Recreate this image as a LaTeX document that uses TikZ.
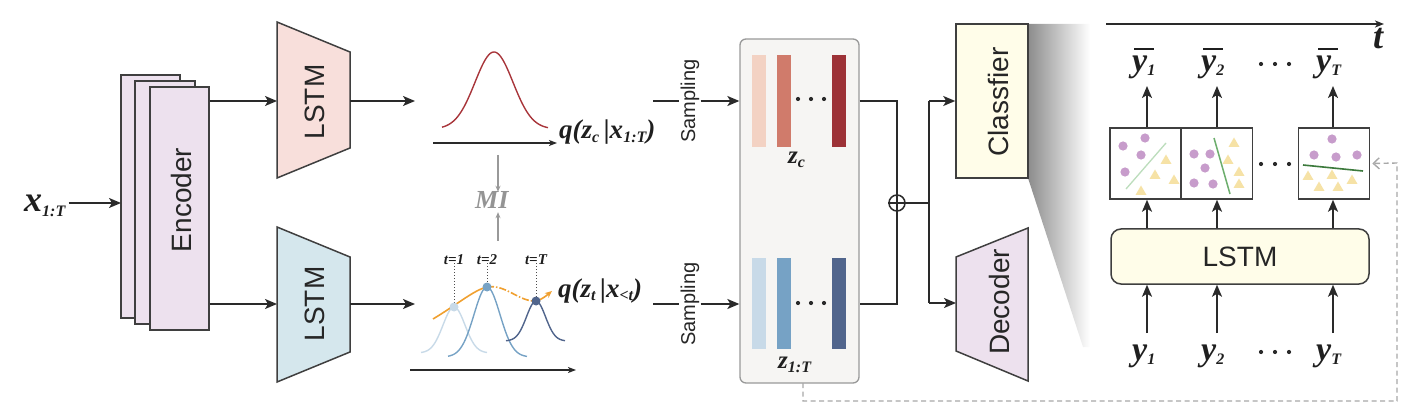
\documentclass[tikz,border=0pt]{standalone}
\usepackage{fontspec}
\setmainfont{Liberation Serif}
\setsansfont{Liberation Sans}
\usetikzlibrary{arrows.meta,calc}
\newcommand\bi[1]{{\bfseries\itshape #1}}
\newcommand\fs[1]{\fontsize{#1}{#1}\selectfont}
\newcommand\lo[2]{\raisebox{-#1}{\fs{16}\bi{#2}}}
\newcommand\ybar{\makebox[0pt][l]{\hspace{0.06em}\raisebox{0.66em}{\rule{0.58em}{0.055em}}}\bi{y}}
\definecolor{encfill}{HTML}{EDE1EE}
\definecolor{lstmred}{HTML}{F8DFDB}
\definecolor{lstmblue}{HTML}{D5E7ED}
\definecolor{clsfill}{HTML}{FFFDE9}
\definecolor{panelfill}{HTML}{F6F5F3}
\definecolor{lineblack}{HTML}{2A2A2A}
\definecolor{redA}{HTML}{F3D2C3}
\definecolor{redB}{HTML}{D07B6B}
\definecolor{redC}{HTML}{9D3237}
\definecolor{bluA}{HTML}{C8DAE8}
\definecolor{bluB}{HTML}{76A2C5}
\definecolor{bluC}{HTML}{51658C}
\definecolor{gaussred}{HTML}{A8353A}
\definecolor{orangec}{HTML}{F0A030}
\definecolor{purp}{HTML}{C79CCB}
\definecolor{trifill}{HTML}{F6E2A6}
\definecolor{grnA}{HTML}{BCDDBC}
\definecolor{grnB}{HTML}{6DAE6D}
\definecolor{grnC}{HTML}{3C7A3C}
\definecolor{dashgrey}{HTML}{A8A8A8}
\begin{document}
\begin{tikzpicture}[x=1pt,y=-1pt,
  >={Stealth[length=12pt,width=10pt,inset=3pt]},
  conn/.style={draw=lineblack, line width=1.6pt},
  boxline/.style={draw=lineblack!90, line width=1.5pt},
  sanslbl/.style={font=\sffamily\fs{28}, text=black!85, inner sep=1pt},
  samplbl/.style={font=\sffamily\fs{20}, text=black!85, inner sep=1pt, rotate=90},
  bilbl/.style={inner sep=0pt, text=black!88},
  minibox/.style={boxline, fill=white, minimum width=71pt, minimum height=71pt, inner sep=0pt},
  dashln/.style={draw=dashgrey, line width=1.4pt, dash pattern=on 5pt off 3.5pt}
]
\useasboundingbox (0,0) rectangle (1414,414);

% ---------- input and encoder ----------
\node[bilbl, anchor=base west] (xin) at (24,212) {\fs{36}\bi{x}\lo{5pt}{1:T}};
\node[boxline, fill=encfill, minimum width=59pt, minimum height=243pt, inner sep=0pt] (encA) at (150.5,196.5) {};
\node[boxline, fill=encfill, minimum width=60pt, minimum height=243pt, inner sep=0pt] (encB) at (165,202.5) {};
\node[boxline, fill=encfill, minimum width=59pt, minimum height=243pt, inner sep=0pt] (enc) at (179.5,208.5) {};
\node[sanslbl, rotate=90] (enclbl) at (181,200) {Encoder};
\coordinate (xtip) at (121,203);
\draw[conn,->] (xin.east |- xtip) ++(3,0) -- (xtip);

% ---------- LSTMs ----------
\draw[boxline, fill=lstmred] (277,22) -- (350,52) -- (350,148) -- (277,178) -- cycle;
\node[sanslbl, rotate=90] (lstmA) at (315,102) {LSTM};
\draw[boxline, fill=lstmblue] (277,227) -- (350,257) -- (350,352) -- (277,382) -- cycle;
\node[sanslbl, rotate=90] (lstmB) at (315,304) {LSTM};
\coordinate (lAin) at (277,101);
\coordinate (lBin) at (277,304);
\coordinate (lAout) at (350,101);
\coordinate (lBout) at (350,304);
\coordinate (gAin) at (415,101);
\coordinate (gBin) at (415,304);
\draw[conn,->] (enc.east |- lAin) -- (lAin);
\draw[conn,->] (enc.east |- lBin) -- (lBin);
\draw[conn,->] (lAout) -- (gAin);
\draw[conn,->] (lBout) -- (gBin);

% ---------- top gaussian ----------
\draw[gaussred, line width=1.4pt] plot[domain=442:548, samples=80, smooth] (\x, {129-77*exp(-((\x-494)^2)/(2*19^2))});
\draw[conn, line width=1.4pt, -{Stealth[length=8pt,width=6pt,inset=2pt]}] (433,143) -- (557,143);
\node[bilbl, anchor=base west] (qc) at (559,139) {\fs{27}\bi{q(z}\lo{4pt}{c}\,\bi{|x}\lo{4pt}{1:T}\bi{)}};

% ---------- MI ----------
\node[bilbl, anchor=base west, text=black!42] (mi) at (475,209) {\fs{26}\bi{MI}};
\draw[draw=black!40, line width=1.2pt, -{Stealth[length=6pt,width=5pt]}] (498,155) -- (mi.north -| 498,0);
\draw[draw=black!40, line width=1.2pt, -{Stealth[length=6pt,width=5pt]}] (498,241) -- ([yshift=-3pt]mi.south -| 498,0);

% ---------- bottom gaussians ----------
\draw[bluA, line width=1.4pt] plot[domain=421:487, samples=60, smooth] (\x, {353-46*exp(-((\x-454)^2)/(2*11^2))});
\draw[bluB, line width=1.4pt] plot[domain=448:527, samples=60, smooth] (\x, {357-70*exp(-((\x-487)^2)/(2*13^2))});
\draw[bluC, line width=1.4pt] plot[domain=506:565, samples=60, smooth] (\x, {341-40*exp(-((\x-536)^2)/(2*9.5^2))});
\draw[orangec, line width=1.6pt] (433,319) .. controls (458,304) and (474,290) .. (487,287);
\draw[orangec, line width=1.6pt, dash pattern=on 7pt off 2pt on 1.5pt off 2pt] (487,287) .. controls (506,284) and (519,302) .. (536,301);
\draw[orangec, line width=1.6pt, -{Stealth[length=7pt,width=6pt,inset=2pt]}] (536,301) .. controls (541,300) and (546,296) .. (552,291);
\node[bilbl, anchor=base] (t1) at (454,265) {\fs{15}\bi{t=1}};
\node[bilbl, anchor=base] (t2) at (487,265) {\fs{15}\bi{t=2}};
\node[bilbl, anchor=base] (tT) at (536,265) {\fs{15}\bi{t=T}};
\coordinate (d1) at (454,307);
\coordinate (d2) at (487,287);
\coordinate (d3) at (536,301);
\draw[black!70, line width=1pt, dotted] ([yshift=2pt]t1.south) -- (d1);
\draw[black!70, line width=1pt, dotted] ([yshift=2pt]t2.south) -- (d2);
\draw[black!70, line width=1pt, dotted] ([yshift=2pt]tT.south) -- (d3);
\fill[bluA] (d1) circle (4.5);
\fill[bluB] (d2) circle (4.5);
\fill[bluC] (d3) circle (4.5);
\draw[conn, line width=1.4pt, -{Stealth[length=8pt,width=6pt,inset=2pt]}] (410,370) -- (576,370);
\node[bilbl, anchor=base west] (qt) at (558,297) {\fs{27}\bi{q(z}\lo{4pt}{t}\,\bi{|x}\lo{4pt}{<t}\bi{)}};

% ---------- sampling ----------
\node[samplbl] (sA) at (690,101) {Sampling};
\node[samplbl] (sB) at (690,304) {Sampling};
\coordinate (sAa) at (653,101);
\coordinate (sBa) at (653,304);
\node[draw=black!40, line width=1.3pt, fill=panelfill, rounded corners=6pt, minimum width=119pt, minimum height=344pt, inner sep=0pt] (panel) at (799.5,211) {};
\draw[conn] (sAa) -- (sA.north);
\draw[conn] (sBa) -- (sB.north);
\draw[conn,->] (sA.south) -- (panel.west |- sA.south);
\draw[conn,->] (sB.south) -- (panel.west |- sB.south);

% bars
\fill[redA] (752,55) rectangle (766,147);
\fill[redB] (777,55) rectangle (791,147);
\fill[redC] (832,55) rectangle (846,147);
\fill[bluA] (752,258) rectangle (766,349);
\fill[bluB] (777,258) rectangle (791,349);
\fill[bluC] (832,258) rectangle (846,349);
\foreach \xx in {798,811,824} {\fill[lineblack] (\xx,99) circle (2.1); \fill[lineblack] (\xx,303) circle (2.1);}
\node[bilbl, anchor=base west] (zc) at (788,164) {\fs{25}\bi{z}\lo{4pt}{c}};
\node[bilbl, anchor=base west] (zT) at (778,368) {\fs{25}\bi{z}\lo{4pt}{1:T}};

% ---------- merge ----------
\node[circle, draw=lineblack, line width=1.5pt, minimum size=16pt, inner sep=0pt] (plus) at (897,203) {};
\coordinate (mA) at (897,101);
\coordinate (mB) at (897,304);
\coordinate (sp) at (929,203);
\coordinate (spA) at (929,101);
\coordinate (spB) at (929,303);
\draw[conn] (panel.east |- mA) -- (mA) -- (mB) -- (panel.east |- mB);
\draw[conn] (plus.west) -- (sp);
\draw[conn] (spA) -- (spB);

% ---------- shading ----------
\shade[left color=black!45, right color=white, draw=none] (1028,24) -- (1090,24) -- (1090,347) -- (1083,347) -- (1028,178) -- cycle;

% ---------- classifier / decoder ----------
\node[boxline, fill=clsfill, minimum width=72pt, minimum height=154pt, inner sep=0pt] (cls) at (992,101) {};
\node[sanslbl, rotate=90] (clslbl) at (998,102) {Classfier};
\draw[boxline, fill=encfill] (956,257) -- (1028,228) -- (1028,381) -- (956,351) -- cycle;
\node[sanslbl, rotate=90] (declbl) at (999,302) {Decoder};
\draw[conn,->] (spA) -- (cls.west |- spA);
\draw[conn,->] (spB) -- (956,303);

% ---------- right panel ----------
\coordinate (ta) at (1106,24);
\coordinate (tb) at (1384,24);
\draw[conn, line width=1.4pt, -{Stealth[length=9pt,width=7pt,inset=2.5pt]}] (ta) -- (tb);
\node[bilbl, anchor=base west] (tlbl) at (1373,49) {\fs{36}\bi{t}};

\node[minibox] (b1) at (1145.5,163.5) {};
\node[minibox] (b2) at (1217,163.5) {};
\node[minibox] (b3) at (1334,163.5) {};
\foreach \xx in {1261,1275,1289} {\fill[lineblack] (\xx,164) circle (2.1); \fill[lineblack] (\xx,64) circle (2.1); \fill[lineblack] (\xx,352) circle (2.1);}

% box 1 contents
\draw[grnA, line width=1.3pt] (1126,189) -- (1166,143);
\foreach \a/\b in {1123/146,1145/138,1141/155,1125/172} {\fill[purp] (\a,\b) circle (4.6);}
\foreach \a/\b in {1166/160,1155/175,1174/180,1141/191} {\fill[trifill] (\a,\b) +(0,-5.5) -- +(5.5,4) -- +(-5.5,4) -- cycle;}
% box 2 contents
\draw[grnB, line width=1.5pt] (1214,138) -- (1230,194);
\foreach \a/\b in {1194/154,1210/154,1205/168,1194/183,1213/184} {\fill[purp] (\a,\b) circle (4.6);}
\foreach \a/\b in {1234/143,1228/160,1239/172,1239/184} {\fill[trifill] (\a,\b) +(0,-5.5) -- +(5.5,4) -- +(-5.5,4) -- cycle;}
% box 3 contents
\foreach \a/\b in {1332/139,1314/155,1336/157,1357/155} {\fill[purp] (\a,\b) circle (4.6);}
\foreach \a/\b in {1308/176,1332/175,1352/180,1319/187,1338/187} {\fill[trifill] (\a,\b) +(0,-5.5) -- +(5.5,4) -- +(-5.5,4) -- cycle;}
\draw[grnC, line width=1.6pt] (1303,165) -- (1363,171);

\node[boxline, fill=clsfill, rounded corners=10pt, minimum width=258pt, minimum height=55pt, inner sep=0pt, font=\sffamily\fs{28}, text=black!85] (rlstm) at (1240,256.5) {LSTM};

\node[bilbl, anchor=base west] (yb1) at (1132,72) {\fs{34}\ybar\lo{4pt}{1}};
\node[bilbl, anchor=base west] (yb2) at (1201,72) {\fs{34}\ybar\lo{4pt}{2}};
\node[bilbl, anchor=base west] (ybT) at (1316,72) {\fs{34}\ybar\lo{4pt}{T}};
\node[bilbl, anchor=base west] (y1) at (1132,360) {\fs{34}\bi{y}\lo{4pt}{1}};
\node[bilbl, anchor=base west] (y2) at (1201,360) {\fs{34}\bi{y}\lo{4pt}{2}};
\node[bilbl, anchor=base west] (yT) at (1316,360) {\fs{34}\bi{y}\lo{4pt}{T}};

\coordinate (o1) at (1147,86);
\coordinate (o2) at (1217,86);
\coordinate (o3) at (1333,86);
\coordinate (i1) at (1147,333);
\coordinate (i2) at (1217,333);
\coordinate (i3) at (1333,333);
\draw[conn,->] (b1.north -| o1) -- (o1);
\draw[conn,->] (b2.north -| o2) -- (o2);
\draw[conn,->] (b3.north -| o3) -- (o3);
\draw[conn,->] (rlstm.north -| o1) -- (b1.south -| o1);
\draw[conn,->] (rlstm.north -| o2) -- (b2.south -| o2);
\draw[conn,->] (rlstm.north -| o3) -- (b3.south -| o3);
\draw[conn,->] (i1) -- (rlstm.south -| i1);
\draw[conn,->] (i2) -- (rlstm.south -| i2);
\draw[conn,->] (i3) -- (rlstm.south -| i3);

% ---------- feedback dashed ----------
\coordinate (f0) at (803,383);
\coordinate (f1) at (803,401);
\coordinate (f2) at (1397,401);
\coordinate (f3) at (1397,163);
\draw[dashln, -{Straight Barb[length=6pt,width=11pt]}] (f0) -- (f1) -- (f2) -- (f3) -- ([xshift=2pt]b3.east);
\end{tikzpicture}
\end{document}
